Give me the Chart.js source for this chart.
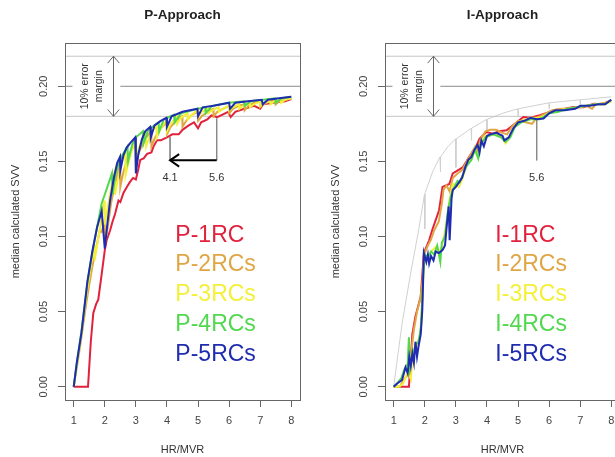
<!DOCTYPE html>
<html>
<head>
<meta charset="utf-8">
<script src="https://cdn.jsdelivr.net/npm/chart.js@4.4.1/dist/chart.umd.min.js"></script>
<style>
  html, body { margin: 0; padding: 0; background: #fff; overflow: hidden; }
  body { width: 615px; height: 457px; position: relative; }
  canvas { position: absolute; top: 0; }
  #pChart { left: 0; }
  #iChart { left: 320px; }
</style>
</head>
<body>
<canvas id="pChart" width="320" height="457"></canvas>
<canvas id="iChart" width="320" height="457"></canvas>
<script>
// axis ticks
const xTicks = [1, 2, 3, 4, 5, 6, 7, 8];
const yTicks = [0, 0.05, 0.10, 0.15, 0.20];

// error margin band around the true SVV of 0.20
const marginTop = 0.22;
const marginTarget = 0.20;
const marginBottom = 0.18;

// P-Approach series, [HR/MVR, median SVV]
const p1RC = [[1,0],[1.46,0],[1.55,0.030],[1.63,0.049],[1.72,0.055],[1.79,0.058],[1.9,0.075],[2.0,0.091],[2.06,0.0975],[2.17,0.104],[2.25,0.110],[2.33,0.115],[2.44,0.124],[2.5,0.123],[2.6,0.129],[2.71,0.133],[2.8,0.136],[2.91,0.139],[3.0,0.138],[3.08,0.145],[3.14,0.151],[3.25,0.152],[3.36,0.155],[3.5,0.156],[3.57,0.160],[3.68,0.164],[3.8,0.164],[4.0,0.166],[4.17,0.168],[4.38,0.168],[4.5,0.171],[4.7,0.174],[4.87,0.176],[5.0,0.172],[5.1,0.176],[5.3,0.178],[5.43,0.1806],[5.62,0.1795],[5.97,0.183],[6.05,0.1795],[6.2,0.183],[6.49,0.185],[6.8,0.187],[7.0,0.185],[7.1,0.188],[7.57,0.1895],[7.8,0.190],[8.0,0.1915]];
const p2RCs = [[1,0],[1.2,0.026],[1.4,0.055],[1.5,0.068],[1.6,0.080],[1.75,0.095],[1.84,0.104],[1.9,0.103],[1.99,0.110],[2.0,0.095],[2.1,0.107],[2.2,0.122],[2.35,0.137],[2.49,0.148],[2.5,0.133],[2.6,0.143],[2.75,0.154],[2.99,0.162],[3.0,0.149],[3.12,0.157],[3.3,0.165],[3.49,0.170],[3.5,0.160],[3.62,0.166],[3.8,0.172],[3.99,0.176],[4.0,0.168],[4.12,0.173],[4.3,0.177],[4.49,0.180],[4.5,0.173],[4.62,0.177],[4.8,0.181],[4.99,0.183],[5.0,0.177],[5.12,0.180],[5.3,0.183],[5.49,0.185],[5.5,0.180],[5.62,0.183],[5.8,0.185],[5.99,0.187],[6.0,0.182],[6.12,0.185],[6.3,0.187],[6.49,0.188],[6.5,0.184],[6.62,0.187],[6.8,0.189],[6.99,0.190],[7.0,0.186],[7.12,0.188],[7.3,0.190],[7.49,0.191],[7.5,0.188],[7.62,0.190],[7.8,0.191],[8.0,0.192]];
const p3RCs = [[1,0],[1.2,0.028],[1.4,0.060],[1.66,0.095],[1.67,0.084],[1.8,0.100],[1.99,0.124],[2.0,0.108],[2.1,0.120],[2.2,0.132],[2.32,0.143],[2.33,0.128],[2.43,0.139],[2.55,0.150],[2.66,0.156],[2.67,0.141],[2.77,0.150],[2.88,0.158],[2.99,0.163],[3.0,0.150],[3.1,0.159],[3.2,0.165],[3.32,0.169],[3.33,0.160],[3.43,0.166],[3.55,0.171],[3.66,0.173],[3.67,0.166],[3.78,0.171],[3.9,0.175],[3.99,0.177],[4.0,0.170],[4.12,0.175],[4.32,0.180],[4.33,0.175],[4.45,0.179],[4.66,0.182],[4.67,0.178],[4.8,0.181],[4.99,0.184],[5.0,0.180],[5.12,0.183],[5.32,0.185],[5.33,0.182],[5.45,0.184],[5.66,0.186],[5.67,0.183],[5.8,0.185],[5.99,0.187],[6.0,0.184],[6.12,0.186],[6.32,0.188],[6.33,0.185],[6.45,0.187],[6.66,0.189],[6.67,0.186],[6.8,0.188],[6.99,0.190],[7.0,0.187],[7.12,0.189],[7.32,0.190],[7.33,0.188],[7.45,0.190],[7.66,0.191],[7.67,0.189],[7.8,0.191],[8.0,0.192]];
const p4RCs = [[1,0],[1.1,0.016],[1.25,0.037],[1.44,0.069],[1.6,0.090],[1.75,0.106],[1.9,0.122],[2.0,0.128],[2.1,0.134],[2.23,0.142],[2.25,0.128],[2.35,0.142],[2.5,0.152],[2.73,0.160],[2.75,0.150],[2.88,0.161],[3.0,0.166],[3.23,0.170],[3.25,0.162],[3.4,0.171],[3.73,0.176],[3.75,0.170],[3.9,0.178],[4.23,0.181],[4.25,0.176],[4.45,0.182],[5.0,0.185],[5.23,0.186],[5.25,0.182],[5.45,0.187],[6.0,0.189],[6.48,0.190],[6.5,0.187],[6.7,0.190],[7.48,0.192],[7.5,0.189],[7.7,0.192],[8.0,0.193]];
const p5RCs = [[1,0],[1.1,0.016],[1.25,0.036],[1.44,0.070],[1.6,0.090],[1.75,0.106],[1.9,0.117],[2.0,0.092],[2.08,0.108],[2.17,0.124],[2.3,0.140],[2.4,0.149],[2.49,0.153],[2.5,0.144],[2.6,0.154],[2.7,0.159],[2.81,0.162],[2.98,0.166],[3.0,0.142],[3.08,0.155],[3.2,0.165],[3.3,0.170],[3.46,0.173],[3.48,0.166],[3.6,0.174],[3.8,0.177],[3.98,0.179],[4.0,0.173],[4.15,0.180],[4.5,0.183],[4.98,0.185],[5.0,0.180],[5.15,0.186],[5.5,0.187],[6.0,0.189],[6.03,0.185],[6.2,0.189],[6.6,0.190],[7.05,0.191],[7.08,0.188],[7.25,0.191],[7.6,0.192],[8.0,0.193]];

// I-Approach series
const i1RC = [[1,0],[1.49,0],[1.6,0.035],[1.7,0.047],[1.87,0.060],[1.97,0.089],[2.14,0.0975],[2.25,0.105],[2.46,0.1175],[2.57,0.133],[2.79,0.135],[2.9,0.142],[3.22,0.146],[3.43,0.153],[3.65,0.160],[3.76,0.165],[3.98,0.1695],[4.19,0.1685],[4.4,0.170],[4.63,0.1707],[4.9,0.175],[5.17,0.1795],[5.4,0.179],[5.7,0.1807],[5.9,0.182],[6.14,0.184],[6.5,0.185],[6.79,0.1862],[7.1,0.186],[7.44,0.1884],[7.7,0.188],[7.98,0.1906]];
const i2RCs = [[1,0],[1.2,0],[1.3,0.004],[1.45,0.008],[1.55,0.020],[1.65,0.038],[1.75,0.050],[1.85,0.058],[1.93,0.070],[1.98,0.088],[2.1,0.094],[2.2,0.098],[2.3,0.104],[2.45,0.110],[2.55,0.122],[2.6,0.131],[2.7,0.134],[2.8,0.130],[2.9,0.139],[3.05,0.142],[3.2,0.144],[3.35,0.150],[3.5,0.155],[3.62,0.160],[3.7,0.157],[3.8,0.165],[3.95,0.170],[4.1,0.171],[4.3,0.171],[4.5,0.169],[4.65,0.168],[4.8,0.173],[5.0,0.177],[5.25,0.176],[5.45,0.175],[5.6,0.179],[5.9,0.182],[6.1,0.184],[6.4,0.185],[6.7,0.185],[6.95,0.186],[7.2,0.187],[7.38,0.185],[7.5,0.188],[7.8,0.189],[8.0,0.190]];
const i3RCs = [[1,0],[1.15,0],[1.3,0.002],[1.45,0.010],[1.55,0.005],[1.6,0.018],[1.7,0.025],[1.78,0.030],[1.85,0.035],[1.93,0.060],[1.98,0.086],[2.1,0.086],[2.2,0.090],[2.35,0.093],[2.5,0.090],[2.6,0.098],[2.72,0.112],[2.8,0.125],[2.9,0.135],[3.0,0.134],[3.1,0.133],[3.2,0.138],[3.35,0.148],[3.5,0.152],[3.6,0.158],[3.7,0.153],[3.8,0.162],[3.95,0.167],[4.2,0.168],[4.45,0.167],[4.6,0.162],[4.75,0.167],[4.9,0.174],[5.1,0.177],[5.4,0.179],[5.7,0.179],[6.0,0.182],[6.3,0.184],[6.6,0.185],[6.9,0.186],[7.2,0.187],[7.5,0.188],[7.8,0.188],[8.0,0.190]];
const i4RCs = [[1,0],[1.1,0.002],[1.25,0.006],[1.35,0.012],[1.45,0.015],[1.49,0.033],[1.52,0.012],[1.6,0.020],[1.7,0.028],[1.8,0.030],[1.88,0.040],[1.95,0.075],[2.0,0.088],[2.1,0.086],[2.2,0.090],[2.3,0.088],[2.4,0.094],[2.5,0.083],[2.55,0.096],[2.65,0.100],[2.75,0.118],[2.85,0.128],[2.95,0.133],[3.05,0.137],[3.12,0.136],[3.2,0.140],[3.35,0.147],[3.5,0.151],[3.62,0.158],[3.72,0.152],[3.8,0.161],[3.95,0.166],[4.2,0.168],[4.45,0.166],[4.6,0.163],[4.75,0.166],[4.9,0.173],[5.1,0.176],[5.4,0.178],[5.7,0.178],[6.0,0.182],[6.3,0.183],[6.6,0.185],[6.9,0.186],[7.2,0.187],[7.5,0.188],[7.8,0.188],[8.0,0.191]];
const i5RCs = [[1,0],[1.1,0.002],[1.27,0.0045],[1.38,0.013],[1.45,0.009],[1.5,0.020],[1.55,0.014],[1.6,0.022],[1.65,0.016],[1.7,0.030],[1.75,0.020],[1.8,0.027],[1.87,0.035],[1.92,0.051],[1.97,0.089],[2.05,0.083],[2.1,0.088],[2.14,0.082],[2.2,0.087],[2.28,0.084],[2.35,0.090],[2.45,0.089],[2.57,0.091],[2.65,0.094],[2.72,0.110],[2.77,0.120],[2.8,0.0975],[2.86,0.125],[2.9,0.131],[3.0,0.133],[3.1,0.136],[3.2,0.139],[3.3,0.146],[3.4,0.151],[3.5,0.153],[3.6,0.158],[3.7,0.161],[3.76,0.156],[3.82,0.164],[3.9,0.160],[4.0,0.167],[4.1,0.168],[4.3,0.169],[4.5,0.167],[4.56,0.164],[4.7,0.166],[4.85,0.172],[5.0,0.176],[5.2,0.177],[5.4,0.179],[5.6,0.178],[5.82,0.1785],[6.0,0.182],[6.2,0.184],[6.5,0.184],[6.84,0.185],[7.0,0.187],[7.3,0.187],[7.6,0.188],[7.8,0.188],[8.0,0.191]];

// grey P-5RCs reference curve shown behind the I-Approach
const pReference = [[1,0],[1.1,0.016],[1.27,0.042],[1.54,0.075],[1.8,0.104],[1.99,0.128],[2.0,0.105],[2.01,0.129],[2.25,0.143],[2.49,0.153],[2.5,0.143],[2.51,0.153],[2.75,0.160],[2.99,0.165],[3.0,0.146],[3.01,0.165],[3.49,0.172],[3.5,0.164],[3.51,0.172],[3.99,0.178],[4.0,0.169],[4.01,0.178],[4.5,0.182],[4.99,0.185],[5.0,0.180],[5.01,0.185],[5.5,0.187],[5.99,0.189],[6.0,0.185],[6.01,0.189],[6.5,0.190],[6.99,0.191],[7.0,0.188],[7.01,0.191],[7.5,0.192],[8.0,0.193]];

const pNames = ['P-1RC', 'P-2RCs', 'P-3RCs', 'P-4RCs', 'P-5RCs'];
const iNames = ['I-1RC', 'I-2RCs', 'I-3RCs', 'I-4RCs', 'I-5RCs'];

// HR/MVR where 10% error is reached
const pThresholds = [4.1, 5.6];
const iThresholds = [5.6];

const colors = ['#e2223d', '#e0a645', '#f4f03a', '#52d84e', '#1f2cb0'];

const xMin = 0.72, xMax = 8.28, yMin = -0.0088, yMax = 0.2288;
const FONT = '"Liberation Sans", Arial, Helvetica, sans-serif';

function pts(arr) { return arr.map(p => ({ x: p[0], y: p[1] })); }

function valueAt(arr, x) {
  for (let i = 1; i < arr.length; i++) {
    if (arr[i][0] >= x) {
      const a = arr[i - 1], b = arr[i];
      return a[1] + (b[1] - a[1]) * (x - a[0]) / (b[0] - a[0]);
    }
  }
  return arr[arr.length - 1][1];
}

function lineSet(data, color, width, order) {
  return { data: pts(data), borderColor: color, borderWidth: width, pointRadius: 0,
           showLine: true, tension: 0, fill: false, order: order };
}

function arrowHead(ctx, x, y, dx, dy, len, ang) {
  const a = Math.atan2(dy, dx);
  ctx.beginPath();
  ctx.moveTo(x - len * Math.cos(a - ang), y - len * Math.sin(a - ang));
  ctx.lineTo(x, y);
  ctx.lineTo(x - len * Math.cos(a + ang), y - len * Math.sin(a + ang));
  ctx.stroke();
}

function makeChart(id, title, series, names, thresholds, lowCurve, withReference) {
  const datasets = [];
  // blue on top, red underneath
  for (let i = 4; i >= 0; i--) datasets.push(lineSet(series[i], colors[i], 2, 4 - i));
  // 10% margin lines
  datasets.push(lineSet([[xMin, marginTop], [xMax, marginTop]], '#c4c4c4', 1, 20));
  datasets.push(lineSet([[xMin, marginBottom], [xMax, marginBottom]], '#c4c4c4', 1, 20));
  datasets.push(lineSet([[xMin, marginTarget], [0.96, marginTarget]], '#8a8a8a', 1, 20));
  datasets.push(lineSet([[2.5, marginTarget], [xMax, marginTarget]], '#8a8a8a', 1, 20));
  if (withReference) datasets.push(lineSet(pReference, '#d0d0d0', 1, 30));
  const arrowY = 0.1507;
  thresholds.forEach(t => {
    datasets.push(lineSet([[t, valueAt(lowCurve, t) - 0.001], [t, arrowY]], '#8a8a8a', 1, 15));
  });
  if (thresholds.length > 1) {
    datasets.push(lineSet([[thresholds[1], arrowY], [thresholds[0], arrowY]], '#000', 2, 10));
  }

  const decor = {
    id: 'decor',
    afterDatasetsDraw(chart) {
      const ctx = chart.ctx, xs = chart.scales.x, ys = chart.scales.y;
      const a = chart.chartArea;
      ctx.save();
      // panel title
      ctx.fillStyle = '#222'; ctx.font = 'bold 13.5px ' + FONT;
      ctx.textAlign = 'center'; ctx.textBaseline = 'middle';
      ctx.fillText(title, (a.left + a.right) / 2, 15);
      // arrow head of the threshold shift
      if (thresholds.length > 1) {
        ctx.strokeStyle = '#000'; ctx.lineWidth = 2;
        arrowHead(ctx, xs.getPixelForValue(thresholds[0]), ys.getPixelForValue(arrowY), -1, 0, 11, 0.6);
      }
      // threshold labels
      ctx.fillStyle = '#333'; ctx.font = '11px ' + FONT;
      thresholds.forEach(t => ctx.fillText(t.toFixed(1), xs.getPixelForValue(t), ys.getPixelForValue(0.1388)));
      // error margin arrow and text
      const ax = xs.getPixelForValue(2.28);
      const yt = ys.getPixelForValue(marginTop), yb = ys.getPixelForValue(marginBottom);
      ctx.strokeStyle = '#666'; ctx.lineWidth = 1;
      ctx.beginPath(); ctx.moveTo(ax, yt); ctx.lineTo(ax, yb); ctx.stroke();
      arrowHead(ctx, ax, yt, 0, -1, 9, 0.7);
      arrowHead(ctx, ax, yb, 0, 1, 9, 0.7);
      ctx.fillStyle = '#333'; ctx.font = '10.5px ' + FONT;
      const ym = ys.getPixelForValue(marginTarget);
      [['10% error', 1.36], ['margin', 1.82]].forEach(([txt, xv]) => {
        ctx.save();
        ctx.translate(xs.getPixelForValue(xv), ym);
        ctx.rotate(-Math.PI / 2);
        ctx.fillText(txt, 0, 0);
        ctx.restore();
      });
      // in-plot legend
      ctx.font = '23px ' + FONT; ctx.textAlign = 'left';
      names.forEach((n, i) => {
        ctx.fillStyle = colors[i];
        ctx.fillText(n, xs.getPixelForValue(4.27), ys.getPixelForValue(0.1009 - i * 0.01995));
      });
      // plot box
      ctx.strokeStyle = '#666'; ctx.lineWidth = 1;
      ctx.strokeRect(Math.round(a.left) + 0.5, Math.round(a.top) + 0.5,
                     Math.round(a.right - a.left), Math.round(a.bottom - a.top));
      ctx.restore();
    }
  };

  return new Chart(document.getElementById(id), {
    type: 'scatter',
    data: { datasets: datasets },
    options: {
      responsive: false,
      animation: false,
      layout: { padding: { right: 20, left: 0, top: 43, bottom: 0 } },
      plugins: {
        legend: { display: false },
        tooltip: { enabled: false },
        title: { display: false }
      },
      scales: {
        x: {
          type: 'linear', min: xMin, max: xMax,
          afterBuildTicks: s => { s.ticks = xTicks.map(v => ({ value: v })); },
          afterFit: s => { s.height = 57; },
          grid: { drawOnChartArea: false, drawTicks: true, tickLength: 7, color: '#666' },
          border: { display: false },
          ticks: { color: '#444', font: { family: FONT, size: 11 }, padding: 7,
                   maxRotation: 0, autoSkip: false, callback: v => String(v) },
          title: { display: true, text: 'HR/MVR', color: '#333',
                   font: { family: FONT, size: 11 }, padding: { top: 0, bottom: 0 } }
        },
        y: {
          type: 'linear', min: yMin, max: yMax,
          afterBuildTicks: s => { s.ticks = yTicks.map(v => ({ value: v })); },
          afterFit: s => { s.width = 65; },
          grid: { drawOnChartArea: false, drawTicks: true, tickLength: 7, color: '#666' },
          border: { display: false },
          ticks: { color: '#444', font: { family: FONT, size: 11 }, padding: 3,
                   minRotation: 90, maxRotation: 90, crossAlign: 'center', autoSkip: false,
                   callback: v => Number(v).toFixed(2) },
          title: { display: true, text: 'median calculated SVV', color: '#333',
                   font: { family: FONT, size: 11 }, padding: { top: 9, bottom: 0 } }
        }
      }
    },
    plugins: [decor]
  });
}

makeChart('pChart', 'P-Approach', [p1RC, p2RCs, p3RCs, p4RCs, p5RCs], pNames, pThresholds, p1RC, false);
makeChart('iChart', 'I-Approach', [i1RC, i2RCs, i3RCs, i4RCs, i5RCs], iNames, iThresholds, i1RC, true);
</script>
</body>
</html>
